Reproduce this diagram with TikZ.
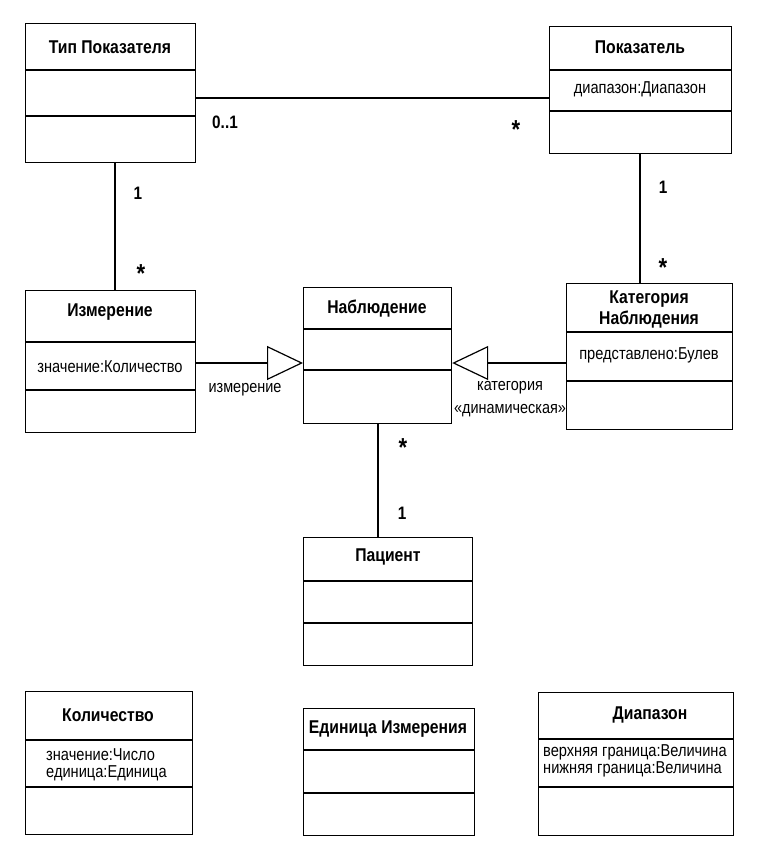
\documentclass[tikz,border=0pt]{standalone}
\usepackage{fontspec}
\setmainfont{Liberation Sans}[FakeStretch=0.85]
\usetikzlibrary{arrows.meta}
\tikzset{
  x=1pt,y=-1pt,
  box/.style={draw,line width=1.2pt,anchor=north west,inner sep=0pt},
  div/.style={line width=1.1pt},
  conn/.style={line width=1.3pt},
  title/.style={font=\fontsize{18.5}{21}\selectfont\bfseries,inner sep=0pt,align=center},
  attr/.style={font=\fontsize{17.2}{17}\selectfont,inner sep=0pt},
  mult/.style={font=\fontsize{18}{20}\selectfont\bfseries,inner sep=0pt},
  star/.style={font=\fontsize{26}{26}\selectfont\bfseries,inner sep=0pt},
  lbl/.style={font=\fontsize{17}{23}\selectfont,inner sep=0pt,align=center},
  gen/.style={conn,-{Triangle[open,length=36pt,width=34pt,line width=1.2pt]}}
}
\newcommand{\umlbox}[7]{%
  \node[box,minimum width=#4pt-#2pt,minimum height=#5pt-#3pt] (#1) at (#2,#3) {};
  \draw[div] (#2,#6) -- (#4,#6);
  \draw[div] (#2,#7) -- (#4,#7);
}
\begin{document}
\begin{tikzpicture}
\useasboundingbox[fill=white] (0,0) rectangle (769,857);
% boxes
\umlbox{tp}{25}{23}{195}{162}{70}{116}
\umlbox{pk}{549}{26}{731}{153}{70}{111}
\umlbox{izm}{25}{290}{195}{432}{342}{390}
\umlbox{nab}{303}{287}{451}{423}{329}{370}
\umlbox{kat}{566}{283}{732}{429}{332}{381}
\umlbox{pac}{303}{537}{472}{665}{581}{623}
\umlbox{kol}{25}{691}{192}{834}{740}{787}
\umlbox{ed}{303}{708}{474}{835}{750}{793}
\umlbox{dia}{538}{692}{733}{835}{739}{787}
% titles
\node[title] (tpT) at (110,47) {Тип Показателя};
\node[title] (pkT) at (640,47) {Показатель};
\node[attr] (pkA) at (640,89) {диапазон:Диапазон};
\node[title] (izmT) at (110,312) {Измерение};
\node[attr] (izmA) at (110,367) {значение:Количество};
\node[title] (nabT) at (377,309) {Наблюдение};
\node[title] (katT) at (649,309) {Категория\\Наблюдения};
\node[attr] (katA) at (649,355) {представлено:Булев};
\node[title] (pacT) at (388,557) {Пациент};
\node[title] (kolT) at (108,715) {Количество};
\node[attr,anchor=west,align=left] (kolA) at (46,765) {значение:Число\\единица:Единица};
\node[title] (edT) at (388,729) {Единица Измерения};
\node[title] (diaT) at (650,715) {Диапазон};
\node[attr,anchor=west,align=left] (diaA) at (543,761) {верхняя граница:Величина\\нижняя граница:Величина};
% connectors
\coordinate (c1) at (195,98);
\coordinate (c2) at (549,98);
\draw[conn] (c1) -- (c2);
\node[mult] (m1) at (225,122) {0..1};
\node[star] (m2) at (516,130) {*};
\draw[conn] (tp.south -| 115,0) -- (izm.north -| 115,0);
\node[mult] (m3) at (138,193) {1};
\node[star] (m4) at (141,274) {*};
\draw[conn] (pk.south -| 640,0) -- (kat.north -| 640,0);
\node[mult] (m5) at (663,187) {1};
\node[star] (m6) at (663,268) {*};
\draw[conn] (nab.south -| 378,0) -- (pac.north -| 378,0);
\node[star] (m7) at (403,448) {*};
\node[mult] (m8) at (402,513) {1};
\draw[gen] (izm.east |- 0,363) -- (nab.west |- 0,363);
\node[lbl] (l1) at (245,390) {измерение};
\draw[gen] (kat.west |- 0,363) -- (nab.east |- 0,363);
\node[lbl] (l2) at (510,399) {категория\\«динамическая»};
\end{tikzpicture}
\end{document}
